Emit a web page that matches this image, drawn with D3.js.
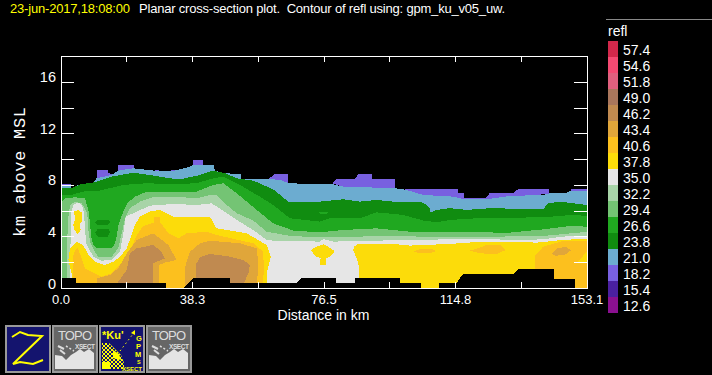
<!DOCTYPE html>
<html>
<head>
<meta charset="utf-8">
<script src="https://d3js.org/d3.v7.min.js"></script>
<style>
  html, body { margin: 0; padding: 0; background: #000; overflow: hidden; }
  text { font-family: "Liberation Sans", sans-serif; fill: #fff; }
</style>
</head>
<body>
<div id="chart"></div>
<script>
// legend levels and their colours, top to bottom
var levels = [57.4, 54.6, 51.8, 49.0, 46.2, 43.4, 40.6, 37.8, 35.0, 32.2, 29.4, 26.6, 23.8, 21.0, 18.2, 15.4, 12.6];
var levelColors = ["#d2284b", "#f44a72", "#e0607e", "#a9765c", "#c08a50", "#e0a63a", "#fcc01e", "#fcdc0a", "#e6e6e6",
  "#a8d4a8", "#74c474", "#20a820", "#108c10", "#6cacd0", "#7860e0", "#4a20a0", "#8a1090"];

var xTicks = [0, 19.14, 38.28, 57.41, 76.55, 95.69, 114.83, 133.96, 153.1];
var xTickLabels = ["0.0", "", "38.3", "", "76.5", "", "114.8", "", "153.1"];
var yTicks = [0, 2, 4, 6, 8, 10, 12, 14, 16];

// contour outlines, [distance km, height km]
var purple1 = [[0,8.07],[3.06,8.07],[3.06,7.9],[0,7.9]];
var purple2 = [[10.6,9.16],[13.9,9.16],[13.9,8.9],[15.4,8.85],[15.4,8.64],[10.6,8.39]];
var purple3 = [[16.7,9.55],[21.4,9.55],[21.4,9.16],[16.7,8.9]];
var purple4 = [[27.5,9.16],[30.4,9.06],[33.8,9.16],[33.8,9.0],[27.5,9.0]];
var purple5 = [[38.7,9.94],[41.4,9.94],[41.4,9.52],[38.7,9.52]];
var purple6 = [[60.8,8.51],[62.4,8.85],[66.2,8.85],[66.2,8.13],[60.8,8.39]];
var purple7 = [[79.2,8.13],[80.4,8.46],[85.7,8.46],[86.7,8.85],[90.8,8.85],[90.8,8.46],[97.3,8.46],[97.3,7.69],[82.3,7.82]];
var purple8 = [[100.2,7.66],[115.7,7.66],[115.7,7.4],[117.4,7.4],[117.4,6.99],[123.8,6.99],[125,7.38],[131.8,7.38],[133.2,7.66],[142.2,7.66],[142.2,7.3],[131.8,7.09],[123.8,6.83],[117.4,6.83],[105.6,7.09]];
var purple9 = [[148.6,7.66],[153.1,7.66],[153.1,7.5],[148.6,7.5]];

var top21 = [[0,7.92],[3.06,7.92],[3.2,7.74],[5.2,8.0],[6.2,8.07],[9.4,8.13],[10.5,8.51],[14.9,8.77],[16.8,9.11],[21.2,9.29],[27,9.11],[33.3,9.11],[37.2,9.37],[38.7,9.55],[44.5,9.55],[45,9.11],[47.9,8.9],[52.5,8.85],[52.7,8.44],[61,8.44],[63.9,8.39],[66.3,8.13],[75.5,8.05],[79.2,8.05],[82.3,7.87],[97.3,7.74],[100.7,7.61],[105.6,7.22],[114.3,7.09],[117.2,6.91],[124,6.88],[130.8,7.14],[140.5,7.22],[142.4,7.35],[147.3,7.4],[148.7,7.56],[153.1,7.56]];
var top238 = [[0,7.74],[3.06,7.74],[4.7,7.92],[6.2,8.07],[10,8.2],[14.9,8.64],[21.2,8.95],[27,8.72],[31.9,8.51],[34.8,8.44],[39.6,8.7],[44.5,9.11],[47.9,8.9],[51.3,8.51],[56.1,8.33],[61.9,7.66],[66.3,6.7],[75.5,6.7],[82.3,6.88],[87.1,6.7],[92,6.83],[96.9,6.7],[105.6,6.63],[107.5,6.19],[107.5,5.85],[109.5,6.06],[113.3,6.19],[118.2,6.06],[125,6.19],[140.5,6.11],[141.9,6.57],[145.4,6.7],[153.1,6.44]];
var top266 = [[0,7.22],[3.2,7.22],[6.6,7.48],[11.5,7.56],[18.3,8.0],[25.1,8.13],[32.8,8.05],[39.6,8.13],[44.5,8.51],[47.4,8.64],[52.2,8.0],[58,7.09],[61.9,6.44],[66.8,5.41],[75.5,5.15],[78.4,5.41],[87.1,5.41],[92,5.87],[99.8,5.67],[105.6,5.23],[109.5,5.1],[113.3,5.28],[121.1,5.41],[140.5,5.49],[149.2,5.67],[153.1,5.59]];
var pocket238a = [[10,5.1],[11,5.28],[14,5.28],[14.4,5.1],[13.6,4.89],[10.8,4.89]];
var pocket238b = [[10,4.3],[10.8,4.55],[14,4.55],[14.4,4.3],[13.6,3.93],[11,3.93]];
var top294 = [[0.5,0],[0.34,6.7],[1.3,6.96],[4.2,7.04],[7.1,6.96],[8.1,6.06],[8.6,5.02],[8.9,3.99],[9.6,3.34],[10.5,3.08],[14.9,3.08],[15.9,3.47],[16.3,3.99],[17,5.02],[18.3,5.93],[19.4,6.57],[21.7,7.09],[25.1,7.48],[32.8,7.43],[39.6,7.48],[44.5,8.0],[47.4,8.13],[51.3,7.35],[57.1,6.06],[61.9,5.02],[67.8,4.45],[75.5,4.32],[82.3,4.5],[92,4.63],[101.7,4.37],[111.4,4.32],[130.8,4.3],[140.5,4.55],[148.2,4.81],[153.1,4.76],[153.1,0]];
var top322 = [[1.9,0],[1.8,2.95],[2.3,5.54],[2.8,6.44],[4.2,6.7],[6.2,6.57],[7.8,5.8],[8.1,4.5],[8.6,3.6],[10,2.82],[11,2.43],[14.9,2.43],[16.8,3.08],[17.8,4.24],[18.8,5.41],[20.2,6.19],[23.1,6.7],[27,7.04],[32.8,7.09],[39.6,6.96],[43.5,7.22],[45.4,7.22],[48.4,6.44],[51.3,5.8],[56.1,5.23],[60,4.37],[66.8,4.04],[75.5,3.93],[82.3,3.93],[92,4.04],[104.6,3.99],[113.3,3.93],[140.5,4.04],[153.1,4.35],[153.1,0]];
var top350 = [[2.9,0],[2.8,3.21],[3.2,3.99],[3.1,5.8],[3.7,6.44],[5.2,6.63],[6.2,6.44],[6.9,5.8],[7.1,4.5],[7.6,3.34],[9.6,2.43],[12,2.12],[14.9,2.17],[17.3,2.82],[18.3,4.24],[19,5.54],[21.2,5.8],[26,6.39],[32.8,6.52],[39.6,6.44],[44,6.57],[48.4,5.8],[51.3,5.28],[56.1,4.5],[60,3.73],[61.9,3.67],[75.5,3.6],[76.5,3.8],[79.4,3.6],[101.7,3.73],[119.2,3.8],[135.6,3.73],[140.5,3.78],[146.3,3.99],[153.1,4.04],[153.1,0]];
var blob378 = [[4,5.93],[5.2,6.06],[6.4,5.8],[6.2,5.15],[5.5,4.89],[5.9,4.5],[5,4.19],[4,4.5],[3.7,4.89],[4.2,5.28]];
var left378 = [[3.7,0],[3.2,1.14],[2.3,2.17],[2.8,3.08],[4.7,3.6],[6.6,3.34],[8.1,2.56],[10,2.04],[12.9,1.79],[15.4,2.04],[17.3,2.43],[19.3,3.08],[21.7,4.89],[23.1,5.54],[26,5.93],[29,6.06],[32.8,5.54],[38.6,5.54],[43.5,5.54],[45.4,4.63],[54.2,4.24],[60,3.34],[61.2,2.43],[60,1.14],[60,0]];
var mid378 = [[72.9,2.95],[74.5,3.2],[76.6,3.39],[78.5,3.1],[79.8,2.85],[78.5,2.43],[77.3,2.3],[77.3,1.79],[75.5,1.79],[75.7,2.3],[74,2.5]];
var right378 = [[86.5,0],[86.9,1.14],[86.7,1.92],[85.2,2.95],[85.5,3.21],[86.7,3.42],[96.9,3.42],[101.7,3.29],[113.3,3.42],[123,3.6],[130.8,3.6],[138.6,3.52],[146.3,3.73],[153.1,3.83],[153.1,0]];
var left406 = [[3.7,0],[3.7,2.43],[4.2,2.95],[5,3.08],[6.2,2.3],[7.1,1.53],[9.1,1.27],[12,0.88],[14.9,1.14],[17.3,1.79],[19.7,2.56],[22.2,4.11],[24.1,4.81],[27.3,5.07],[27.3,5.54],[29.1,5.54],[29.1,5.07],[31.4,4.24],[34.3,3.86],[36.7,4.24],[42.5,4.37],[45.4,4.11],[56.1,3.47],[59,2.82],[59.2,1.4],[58.8,0]];
var right406 = [[138.1,0],[138.1,2.48],[140.5,3.21],[146.3,3.65],[153.1,3.67],[153.1,2.82],[150.7,2.04],[153.1,1.97],[153.1,0]];
var lens406a = [[102.7,2.85],[105,3.03],[108,3.03],[109.3,2.85],[107.5,2.69],[104.5,2.69]];
var lens406b = [[119.2,2.9],[122,3.13],[124,3.34],[128,3.34],[129.6,2.95],[127,2.64],[122,2.69]];
var blobA434 = [[10.5,0],[10.5,0.75],[14.4,1.01],[16.8,1.53],[19.3,2.69],[22.2,3.73],[27,4.24],[31.4,3.34],[33.8,2.17],[30.4,1.97],[28.8,1.79],[28.8,0]];
var blobB434 = [[36.2,0],[36.4,1.79],[37.7,2.82],[40.6,3.47],[43.5,3.67],[52.2,3.47],[57.1,3.08],[57.6,1.92],[57.1,0]];
var blobC434 = [[143.1,2.69],[144.5,3.08],[147,3.18],[148.7,2.95],[147,2.61],[144,2.48]];
var blobA462 = [[16.8,0],[16.8,0.49],[19.3,1.4],[20.2,2.69],[22.2,3.08],[27,3.34],[29.4,2.82],[30.4,2.3],[27,1.92],[26.8,0]];
var blobB462 = [[39.4,0],[39.3,1.79],[40.6,2.38],[43.5,2.64],[48.4,2.48],[53.2,2.17],[55.1,1.79],[54.7,1.14],[52.7,0]];
var lens266 = [[75,5.9],[78,5.9],[77.4,5.72],[75.6,5.72]];

// ground under the beam, blanked out in black
var ground = [[0,0.75],[4.5,0.75],[4.5,0.41],[30.7,0.41],[30.7,0],[35.8,0],[38.7,0.75],[49.3,0.75],[49.3,0.41],[68.7,0.41],[70,0.75],[80.2,0.75],[80.2,0.41],[85.7,0.41],[85.7,0.75],[98.8,0.75],[98.8,0.41],[104.9,0.41],[104.9,0],[110.2,0],[110.2,0.41],[115.3,0.41],[117.2,1.09],[131.8,1.09],[133.2,1.48],[143.6,1.48],[143.6,0.72],[149.7,0.72],[149.7,0],[153.1,0]];

function toGround(top) {
  return [[top[0][0], 0]].concat(top, [[top[top.length - 1][0], 0]]);
}

// painted low to high, later ones cover earlier ones
var regions = [
  [18.2, purple1], [18.2, purple2], [18.2, purple3], [18.2, purple4], [18.2, purple5],
  [18.2, purple6], [18.2, purple7], [18.2, purple8], [18.2, purple9],
  [21.0, toGround(top21)], [23.8, toGround(top238)], [26.6, toGround(top266)], [26.6, lens266],
  [23.8, pocket238a], [23.8, pocket238b],
  [29.4, top294], [32.2, top322], [35.0, top350],
  [37.8, blob378], [37.8, left378], [37.8, mid378], [37.8, right378],
  [40.6, left406], [40.6, right406], [40.6, lens406a], [40.6, lens406b],
  [43.4, blobA434], [43.4, blobB434], [43.4, blobC434],
  [46.2, blobA462], [46.2, blobB462]
];

var width = 712, height = 375;
var margin = {top: 56, right: 125.5, bottom: 87, left: 60.5};

var svg = d3.select("#chart").append("svg")
  .attr("width", width)
  .attr("height", height)
  .style("display", "block");

svg.append("rect").attr("width", width).attr("height", height).attr("fill", "#000");

var x = d3.scaleLinear().domain([0, 153.1]).range([margin.left, width - margin.right]);
var y = d3.scaleLinear().domain([0, 18]).range([height - margin.bottom, margin.top]);
var color = d3.scaleOrdinal().domain(levels).range(levelColors);

var outline = d3.line()
  .x(function(d) { return x(d[0]); })
  .y(function(d) { return y(d[1]); });

var plot = svg.append("g");

plot.selectAll("path.region")
  .data(regions)
  .enter()
  .append("path")
    .attr("class", "region")
    .attr("fill", function(d) { return color(d[0]); })
    .attr("shape-rendering", "crispEdges")
    .attr("d", function(d) { return outline(d[1]) + "Z"; });

var groundArea = d3.area()
  .x(function(d) { return x(d[0]); })
  .y0(y(0))
  .y1(function(d) { return y(d[1]); });

plot.append("path")
  .datum(ground)
  .attr("fill", "#000")
  .attr("shape-rendering", "crispEdges")
  .attr("d", groundArea);

// frame and ticks, all pointing inward
function styleAxis(g) {
  g.selectAll("path, line").attr("stroke", "#fff").attr("shape-rendering", "crispEdges");
  g.select(".domain").attr("stroke-width", 1);
  g.selectAll("text").attr("fill", "#fff").style("font-family", "Liberation Sans");
}

var noLabel = function() { return ""; };

svg.append("g")
  .attr("transform", "translate(" + margin.left + ",0)")
  .call(d3.axisLeft(y).tickValues(yTicks).tickSize(-13).tickSizeOuter(0)
    .tickFormat(function(d) { return d % 4 === 0 ? d : ""; }))
  .call(styleAxis)
  .call(function(g) {
    g.selectAll("text").attr("dy", 0).attr("x", -4.5).style("font-size", "14.5px");
  });

svg.append("g")
  .attr("transform", "translate(" + (width - margin.right) + ",0)")
  .call(d3.axisRight(y).tickValues(yTicks).tickSize(-13).tickSizeOuter(0).tickFormat(noLabel))
  .call(styleAxis);

svg.append("g")
  .attr("transform", "translate(0," + (height - margin.bottom) + ")")
  .call(d3.axisBottom(x).tickValues(xTicks).tickSize(-6).tickSizeOuter(0)
    .tickFormat(function(d, i) { return xTickLabels[i]; }))
  .call(styleAxis)
  .call(function(g) {
    g.selectAll("text").attr("y", 16).attr("dy", 0).style("font-size", "13px");
  });

svg.append("g")
  .attr("transform", "translate(0," + margin.top + ")")
  .call(d3.axisTop(x).tickValues(xTicks).tickSize(-6).tickSizeOuter(0).tickFormat(noLabel))
  .call(styleAxis);

// titles
svg.append("text")
  .attr("x", 10).attr("y", 13)
  .attr("textLength", 120)
  .style("font-size", "13px")
  .style("fill", "#ffff00")
  .text("23-jun-2017,18:08:00");

svg.append("text")
  .attr("x", 139).attr("y", 13)
  .attr("textLength", 366)
  .attr("xml:space", "preserve")
  .style("white-space", "pre")
  .style("font-size", "13px")
  .text("Planar cross-section plot.  Contour of refl using: gpm_ku_v05_uw.");

svg.append("text")
  .attr("x", 323.5).attr("y", 320)
  .attr("text-anchor", "middle")
  .style("font-size", "14px")
  .text("Distance in km");

svg.append("text")
  .attr("transform", "translate(25,237) rotate(-90)")
  .attr("textLength", 130)
  .style("font-family", "Liberation Mono")
  .style("font-size", "17px")
  .text("km above MSL");

// legend
var legendY = d3.scaleBand().domain(levels).range([41, 313]);

svg.append("line")
  .attr("x1", 606).attr("x2", 712).attr("y1", 19.5).attr("y2", 19.5)
  .attr("stroke", "#888");

svg.append("text")
  .attr("x", 608).attr("y", 36)
  .style("font-size", "14px")
  .text("refl");

svg.selectAll("rect.swatch")
  .data(levels)
  .enter()
  .append("rect")
    .attr("class", "swatch")
    .attr("x", 608)
    .attr("y", function(d) { return legendY(d); })
    .attr("width", 10)
    .attr("height", legendY.bandwidth())
    .attr("fill", function(d) { return color(d); });

svg.selectAll("text.swatch-label")
  .data(levels)
  .enter()
  .append("text")
    .attr("class", "swatch-label")
    .attr("x", 623)
    .attr("y", function(d) { return legendY(d) + 14; })
    .style("font-size", "14px")
    .text(function(d) { return d.toFixed(1); });

// button strip along the bottom
var defs = svg.append("defs");
var checker = defs.append("pattern")
  .attr("id", "checker")
  .attr("width", 4).attr("height", 4)
  .attr("patternUnits", "userSpaceOnUse");
checker.append("rect").attr("width", 2).attr("height", 2).attr("fill", "#ffff00");
checker.append("rect").attr("x", 2).attr("y", 2).attr("width", 2).attr("height", 2).attr("fill", "#ffff00");

function button(left, fill) {
  var g = svg.append("g").attr("transform", "translate(" + left + ",325)");
  g.append("rect")
    .attr("x", 1).attr("y", 1).attr("width", 44).attr("height", 46)
    .attr("fill", fill).attr("stroke", "#999").attr("stroke-width", 2);
  return g;
}

var zButton = button(5, "#14146e");
zButton.append("path")
  .attr("d", "M7,12 L15,7 L23,10 L37,11 L8,39 L15,37 L28,39 L38,35")
  .attr("fill", "none").attr("stroke", "#ffff00").attr("stroke-width", 2);

function topoButton(left) {
  var g = button(left, "#666");
  g.append("text").attr("x", 6).attr("y", 15).attr("textLength", 34).style("font-size", "13px").style("fill", "#ddd").text("TOPO");
  g.append("text").attr("x", 23).attr("y", 24).attr("textLength", 20).style("font-size", "6.5px").style("font-weight", "bold").style("fill", "#ddd").text("XSECT");
  g.append("path")
    .attr("d", "M3,30 L10,31 L14,35 L19,30 L24,27 L28,24 L32,27 L37,24 L42,28 L42,44 L3,44 Z")
    .attr("fill", "#e4e4e4");
  g.append("path")
    .attr("d", "M6,21 L12,24 M8,25 L13,29")
    .attr("stroke", "#ddd").attr("stroke-width", 2).attr("fill", "none");
  g.append("path")
    .attr("d", "M14,21 L22,26")
    .attr("stroke", "#ddd").attr("stroke-width", 1.5).attr("stroke-dasharray", "2 2").attr("fill", "none");
}

topoButton(52);
topoButton(146);

var kuButton = button(99, "#14146e");
function kuText(label, px, py, size) {
  kuButton.append("text")
    .attr("x", px).attr("y", py)
    .style("font-size", size + "px")
    .style("font-weight", "bold")
    .style("fill", "#ffff00")
    .text(label);
}
kuText("*Ku'", 3, 14, 11);
kuText("G", 37, 16, 7.5);
kuText("P", 37, 24, 7.5);
kuText("M", 36, 32, 7.5);
kuText("S", 38, 39, 5.5);
kuText("XSECT", 23, 46, 6);
kuButton.append("path").attr("d", "M3,18 L10,18 L22,30 L25,38 L25,44 L3,44 Z").attr("fill", "url(#checker)");
kuButton.append("path").attr("d", "M3,37 L11,37 L11,44 L3,44 Z M14,25 L20,29 L22,35 L14,33 Z").attr("fill", "#ffff00");
kuButton.append("path").attr("d", "M21,26 L34,9").attr("stroke", "#ffff00").attr("stroke-dasharray", "1.5 3").attr("fill", "none");
kuButton.append("path").attr("d", "M32,8 L36,5 L36,10 Z").attr("fill", "#ffff00");
</script>
</body>
</html>
